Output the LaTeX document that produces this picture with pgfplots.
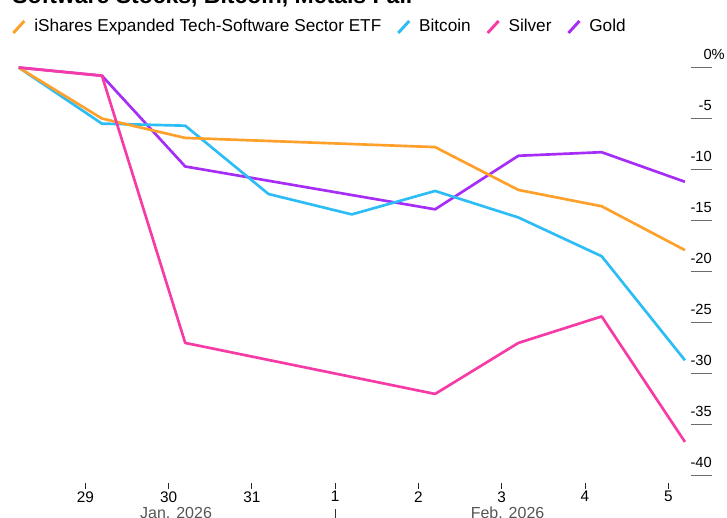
\documentclass[border=0pt]{standalone}
\usepackage{pgfplots}
\pgfplotsset{compat=1.18}
\usepackage{fontspec}
\setmainfont{Liberation Sans}
\definecolor{cETF}{HTML}{FFA02B}
\definecolor{cBTC}{HTML}{2DBDF6}
\definecolor{cSLV}{HTML}{F63AA6}
\definecolor{cGLD}{HTML}{A62DF6}
\definecolor{tickgray}{HTML}{6B6B6B}
\definecolor{monthgray}{HTML}{555555}
\pgfplotstableread{
x y
-0.8 0
0.2 -5.0
1.2 -6.9
4.2 -7.8
5.2 -12.0
6.2 -13.6
7.2 -17.9
}\etfdata
\pgfplotstableread{
x y
-0.8 0
0.2 -5.5
1.2 -5.7
2.2 -12.4
3.2 -14.4
4.2 -12.1
5.2 -14.7
6.2 -18.5
7.2 -28.7
}\btcdata
\pgfplotstableread{
x y
-0.8 0
0.2 -0.8
1.2 -27.0
4.2 -32.0
5.2 -27.0
6.2 -24.4
7.2 -36.7
}\slvdata
\pgfplotstableread{
x y
-0.8 0
0.2 -0.8
1.2 -9.7
4.2 -13.9
5.2 -8.65
6.2 -8.3
7.2 -11.2
}\glddata
\begin{document}
\begin{tikzpicture}
\node[anchor=base west, inner sep=0pt, font=\bfseries\fontsize{17.25}{20}\selectfont] at (9pt,-2.8pt) {Software Stocks, Bitcoin, Metals Fall};
\begin{axis}[
  at={(14.0pt,-366.75pt)}, anchor=south west,
  scale only axis, width=520pt, height=316.1pt,
  xmin=-0.8, xmax=7.525, ymin=-41.32, ymax=0,
  clip=false,
  axis line style={draw=none},
  tick align=inside,
  xtick={0,1,2,3,4,5,6,7},
  xticklabels={29,30,31,1,2,3,4,5},
  xtick pos=left, xticklabel pos=left,
  ytick={-40,-35,-30,-25,-20,-15,-10,-5,0},
  yticklabels={-40,-35,-30,-25,-20,-15,-10,-5,0\rlap{\%}},
  ytick pos=right, yticklabel pos=right,
  major tick length=15.75pt,
  x tick style={/pgfplots/major tick length=4.5pt, draw=black!85, line width=0.7pt},
  y tick style={/pgfplots/major tick length=15.75pt, draw=tickgray, line width=1.2pt},
  xticklabel style={font=\fontsize{11.5}{13}\selectfont, anchor=north, inner sep=0pt, yshift=-1.6pt},
  yticklabel style={font=\fontsize{11}{13}\selectfont, anchor=base east, inner sep=0pt, yshift=5.8pt},
  legend columns=4,
  legend cell align=left,
  legend image code/.code={\draw[#1, line width=2.2pt, line cap=butt] (0pt,-0.75pt) -- (8.25pt,8.25pt);},
  legend style={draw=none, fill=none, inner sep=0pt, outer sep=0pt,
    at={(-0.0097,1.114)}, anchor=north west,
    font=\fontsize{12.9}{15}\selectfont,
    cells={anchor=base west},
    nodes={inner sep=0pt, text depth=0pt},
    column sep=6.3pt,
    /tikz/every even column/.append style={column sep=11.6pt}},
]
\addlegendimage{cETF}
\addlegendentry{iShares Expanded Tech-Software Sector ETF}
\addlegendimage{cBTC}
\addlegendentry{Bitcoin}
\addlegendimage{cSLV}
\addlegendentry{Silver}
\addlegendimage{cGLD}
\addlegendentry{Gold}
\addplot[cGLD, line width=2pt, line join=round, forget plot] table[x=x,y=y] {\glddata};
\addplot[cBTC, line width=2pt, line join=round, forget plot] table[x=x,y=y] {\btcdata};
\addplot[cETF, line width=2pt, line join=round, forget plot] table[x=x,y=y] {\etfdata};
\addplot[cSLV, line width=2pt, line join=round, forget plot] table[x=x,y=y] {\slvdata};
\node[font=\fontsize{12}{14}\selectfont, text=monthgray, anchor=base, inner sep=0pt] at (axis cs:1.09,-44.17) {Jan. 2026};
\node[font=\fontsize{12}{14}\selectfont, text=monthgray, anchor=base, inner sep=0pt] at (axis cs:5.07,-44.17) {Feb. 2026};
\draw[black!80, line width=0.7pt] (axis cs:3,-43.3) -- (axis cs:3,-45);
\end{axis}
\pgfresetboundingbox
\path[use as bounding box] (0pt,0pt) rectangle (545.25pt,-387.75pt);
\end{tikzpicture}
\end{document}
